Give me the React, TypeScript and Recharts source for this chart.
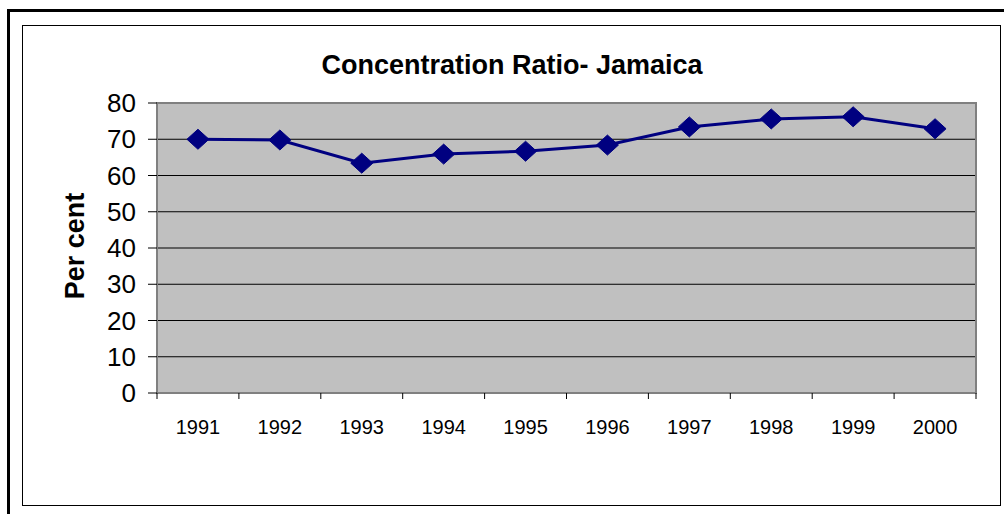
import {
  LineChart,
  Line,
  XAxis,
  YAxis,
  CartesianGrid,
  ReferenceArea,
} from 'recharts';

const years = ['1991', '1992', '1993', '1994', '1995', '1996', '1997', '1998', '1999', '2000'];
const ratio = [70.0, 69.8, 63.4, 65.9, 66.7, 68.4, 73.4, 75.6, 76.2, 72.9];
const yTicks = [0, 10, 20, 30, 40, 50, 60, 70, 80];

const data = years.map((year, i) => ({ idx: i, year, ratio: ratio[i] }));
const centerTicks = years.map((_, i) => i);
const edgeTicks = [...years.map((_, i) => i - 0.5), years.length - 0.5];

const NAVY = '#000080';
const FONT = 'Arial, "Liberation Sans", sans-serif';

function Diamond(props: { cx?: number; cy?: number; index?: number }) {
  const { cx, cy, index } = props;
  if (cx == null || cy == null) return null;
  const w = 11;
  const h = 10;
  return (
    <polygon
      key={`d-${index}`}
      points={`${cx},${cy - h} ${cx + w},${cy} ${cx},${cy + h} ${cx - w},${cy}`}
      fill={NAVY}
      stroke={NAVY}
    />
  );
}

export default function App() {
  return (
    <div style={{ position: 'absolute', left: 0, top: 0, width: 1004, height: 514, background: '#fff', fontFamily: FONT }}>
      {/* outer frame (partly cut off) */}
      <div style={{ position: 'absolute', left: 8, top: 9, width: 996, height: 3, background: '#000' }} />
      <div style={{ position: 'absolute', left: 7, top: 9, width: 3, height: 505, background: '#000' }} />
      {/* chart area border */}
      <div style={{ position: 'absolute', left: 22, top: 25, width: 977, height: 479, border: '1px solid #000' }} />

      <div
        style={{
          position: 'absolute',
          left: 512,
          top: 65,
          transform: 'translate(-50%, -50%)',
          fontSize: 27,
          fontWeight: 'bold',
          whiteSpace: 'nowrap',
          color: '#000',
        }}
      >
        Concentration Ratio- Jamaica
      </div>

      <div
        style={{
          position: 'absolute',
          left: 75,
          top: 246,
          transform: 'translate(-50%, -50%) rotate(-90deg)',
          fontSize: 27,
          fontWeight: 'bold',
          whiteSpace: 'nowrap',
          color: '#000',
        }}
      >
        Per cent
      </div>

      <div style={{ position: 'absolute', left: 0, top: 0 }}>
        <LineChart width={1004} height={514} data={data} margin={{ top: 103, right: 28, left: 97, bottom: 60 }}>
          <CartesianGrid vertical={false} horizontal stroke="#000" strokeWidth={1} fill="#c0c0c0" fillOpacity={1} />
          <ReferenceArea
            xAxisId="labels"
            x1={-0.5}
            x2={9.5}
            y1={0}
            y2={80}
            fill="none"
            stroke="#808080"
            strokeWidth={2}
            ifOverflow="visible"
          />
          <XAxis
            xAxisId="edges"
            dataKey="idx"
            type="number"
            domain={[-0.5, 9.5]}
            ticks={edgeTicks}
            interval={0}
            tickFormatter={() => ' '}
            tickSize={6}
            tickLine={{ stroke: '#000', strokeWidth: 1 }}
            axisLine={false}
            height={1}
          />
          <XAxis
            xAxisId="labels"
            dataKey="idx"
            type="number"
            domain={[-0.5, 9.5]}
            ticks={centerTicks}
            interval={0}
            tickFormatter={(v: number) => years[v] ?? ''}
            tick={{ fontSize: 20, fill: '#000', fontFamily: FONT }}
            tickLine={false}
            axisLine={false}
            tickMargin={20}
            height={60}
          />
          <YAxis
            domain={[0, 80]}
            ticks={yTicks}
            interval={0}
            width={60}
            axisLine={false}
            tickLine={{ stroke: '#000' }}
            tickSize={9}
            tickMargin={12}
            tick={{ fontSize: 26, fill: '#000', fontFamily: FONT }}
          />
          <Line
            xAxisId="labels"
            dataKey="ratio"
            stroke={NAVY}
            strokeWidth={3}
            dot={(p: { cx?: number; cy?: number; index?: number }) => <Diamond {...p} />}
            activeDot={false}
            isAnimationActive={false}
          />
        </LineChart>
      </div>
    </div>
  );
}
